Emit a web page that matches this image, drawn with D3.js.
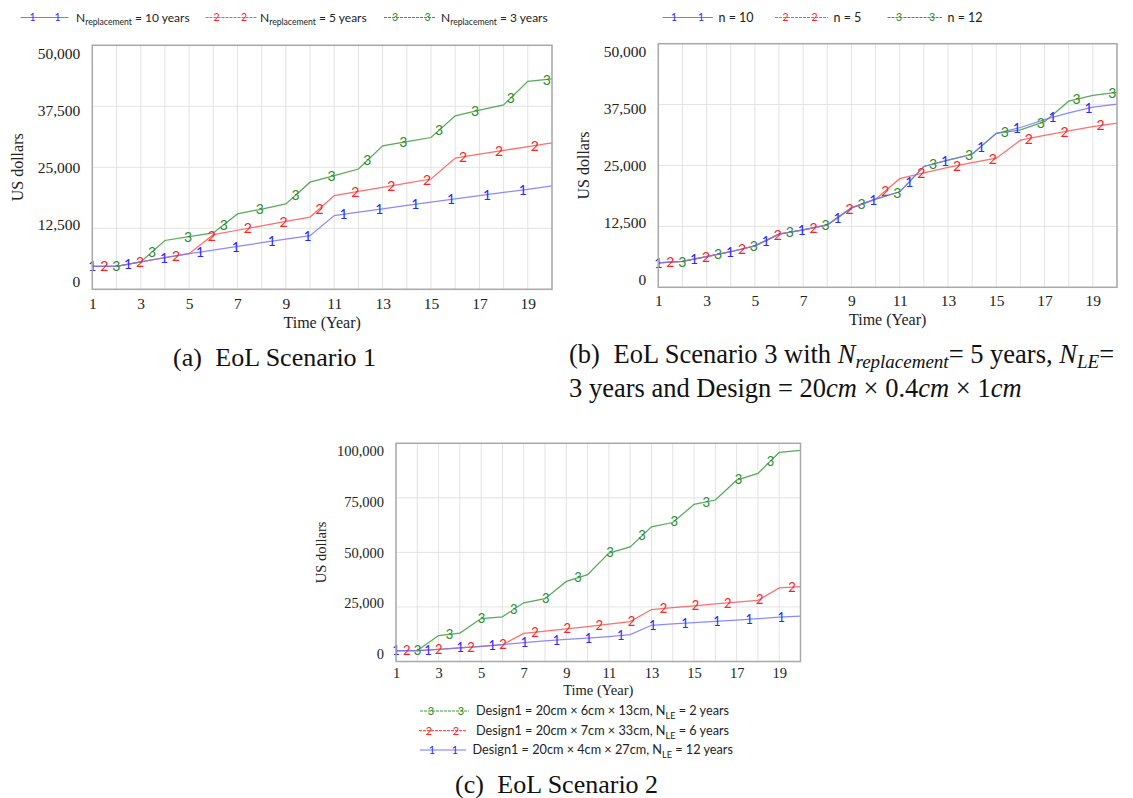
<!DOCTYPE html>
<meta charset="utf-8">
<head>
  <script src="https://d3js.org/d3.v7.min.js"></script>
  <style>
    body { margin: 0; background: #fff; }
    .grid line { stroke: #e3e3e3; stroke-width: 1; }
    .frame { fill: none; stroke: #a9a9a9; stroke-width: 1.5; }
    .tick text { font-family: "Liberation Serif", "Times New Roman", serif; fill: #222; }
    .title { font-family: "Liberation Serif", "Times New Roman", serif; fill: #222; }
    .legend { font-family: Lato, "Open Sans", sans-serif; }
    .marker { font-family: Lato, "Liberation Sans", sans-serif; }
    .caption { font-family: "Liberation Serif", "Times New Roman", serif; fill: #111; }
  </style>
</head>
<body>
<div id="chart"></div>
<script>

// x categories and tick labels
var years = [1, 2, 3, 4, 5, 6, 7, 8, 9, 10, 11, 12, 13, 14, 15, 16, 17, 18, 19, 20];
var xTickLabels = [1, 3, 5, 7, 9, 11, 13, 15, 17, 19];
var yTicksAB = [0, 12500, 25000, 37500, 50000];
var yTicksC = [0, 25000, 50000, 75000, 100000];

// (a) EoL Scenario 1
var a_rep10 = [4700, 4700, 5600, 6500, 7300, 8050, 8800, 9550, 10300, 11000, 15100, 15800, 16500, 17200, 17850, 18550, 19200, 19850, 20500, 21200];
var a_rep5  = [4700, 4700, 5600, 6500, 7300, 11200, 12100, 13000, 13900, 14800, 19200, 20050, 20900, 21750, 22600, 26900, 27700, 28450, 29250, 30000];
var a_rep3  = [4700, 4700, 5600, 10000, 10800, 11550, 15450, 16450, 17500, 21950, 23300, 24650, 29400, 30250, 31100, 35550, 36700, 37800, 42600, 43100];

// (b) EoL Scenario 3
var b_n10 = [5000, 5300, 6300, 7300, 8500, 10900, 11800, 12800, 16300, 18100, 19600, 24800, 26100, 27300, 31600, 32800, 34400, 35800, 37000, 37600];
var b_n5  = [5000, 5300, 6300, 7300, 8500, 10900, 11800, 12800, 16300, 18100, 22300, 23500, 24600, 25600, 26500, 30200, 31200, 32100, 33000, 33700];
var b_n12 = [5000, 5300, 6300, 7300, 8500, 10900, 11800, 12800, 16300, 18100, 19600, 24800, 26100, 27300, 31600, 32300, 34000, 38200, 39400, 40000];

// (c) EoL Scenario 2
var c_le12 = [5000, 5000, 5600, 6300, 6900, 7700, 8700, 9500, 10100, 10700, 11400, 12300, 16600, 17200, 17800, 18400, 19000, 19600, 20300, 20800];
var c_le6  = [5000, 5000, 5600, 6300, 6900, 7700, 12900, 13900, 15000, 16000, 17100, 18300, 23800, 24700, 25500, 26400, 27200, 28000, 33700, 34300];
var c_le2  = [5000, 5000, 11900, 13000, 19700, 20500, 26900, 28800, 36700, 39800, 49700, 52500, 61700, 63700, 72000, 74000, 83100, 86200, 95800, 96800];

var blue = { line: "#7676ff", mark: "#2a2aff", digit: "1" };
var red = { line: "#ff5555", mark: "#ff2020", digit: "2" };
var green = { line: "#3a9c3a", mark: "#2a8c2a", digit: "3" };

var svg = d3.select("#chart").append("svg")
  .attr("width", 1133)
  .attr("height", 798);

function drawPanel(p) {
  var x = d3.scaleLinear().domain([1, 20]).range([p.x0, p.x1]);
  var y = d3.scaleLinear().domain([0, p.yMax]).range([p.yBot, p.yTop]);
  // Vensim puts the value labels inset from the frame
  var yLab = d3.scaleLinear().domain([0, p.yMax]).range([p.yBot - 8, p.yTop + 8]);

  var g = svg.append("g");

  // grid
  var grid = g.append("g").attr("class", "grid");
  grid.selectAll(".v").data(years).enter().append("line")
    .attr("x1", function (d) { return x(d); }).attr("x2", function (d) { return x(d); })
    .attr("y1", p.yTop).attr("y2", p.yBot);
  grid.selectAll(".h").data(p.yTicks).enter().append("line")
    .attr("x1", p.x0).attr("x2", p.x1)
    .attr("y1", function (d) { return y(d); }).attr("y2", function (d) { return y(d); });

  // series lines (green under, blue on top)
  var line = d3.line()
    .x(function (d) { return x(d[0]); })
    .y(function (d) { return y(d[1]); });
  p.series.slice().reverse().forEach(function (s) {
    g.append("path")
      .datum(d3.zip(years, s.values))
      .attr("fill", "none")
      .attr("stroke", s.c.line)
      .attr("stroke-width", 1.25)
      .attr("opacity", 0.85)
      .attr("d", line);
  });

  // digit markers along each line
  p.series.forEach(function (s, k) {
    var along = d3.scaleLinear().domain(years).range(s.values);
    var pos = [];
    for (var t = 1 + k * p.step / 3; t <= 20.01; t += p.step) pos.push(Math.min(t, 20));
    g.selectAll(null).data(pos).enter().append("text")
      .attr("class", "marker")
      .attr("x", function (d) { return x(d); })
      .attr("y", function (d) { return y(along(d)); })
      .attr("text-anchor", "middle")
      .attr("dy", "0.36em")
      .style("font-size", p.markFont + "px")
      .style("fill", s.c.mark)
      .text(s.c.digit);
  });

  // frame
  g.append("rect").attr("class", "frame")
    .attr("x", p.x0).attr("y", p.yTop)
    .attr("width", p.x1 - p.x0).attr("height", p.yBot - p.yTop);

  // axes
  g.append("g")
    .attr("transform", "translate(0," + p.yBot + ")")
    .call(d3.axisBottom(x).tickValues(xTickLabels).tickSize(0))
    .call(function (a) { a.select(".domain").remove(); })
    .call(function (a) {
      a.selectAll("text").attr("y", p.xTickOff).attr("dy", "0.35em")
        .style("font-size", p.tickFont + "px");
    });

  g.append("g")
    .attr("transform", "translate(" + p.x0 + ",0)")
    .call(d3.axisLeft(yLab).tickValues(p.yTicks).tickFormat(d3.format(",")).tickSize(0).tickPadding(12))
    .call(function (a) { a.select(".domain").remove(); })
    .call(function (a) { a.selectAll("text").style("font-size", p.tickFont + "px"); });

  g.append("text").attr("class", "title")
    .attr("x", (p.x0 + p.x1) / 2).attr("y", p.yBot + p.timeOff)
    .attr("text-anchor", "middle").attr("dy", "0.35em")
    .style("font-size", p.titleFont + "px")
    .text("Time (Year)");

  g.append("text").attr("class", "title")
    .attr("transform", "translate(" + (p.x0 - 75) + "," + (p.yTop + p.yBot) / 2 + ") rotate(-90)")
    .attr("text-anchor", "middle").attr("dy", "0.35em")
    .style("font-size", p.titleFont + "px")
    .text("US dollars");
}

drawPanel({
  x0: 92.3, x1: 552, yTop: 45.3, yBot: 289.3, yMax: 50000, yTicks: yTicksAB,
  step: 1.483, markFont: 14, tickFont: 15.5, titleFont: 16, xTickOff: 14, timeOff: 33,
  series: [{ values: a_rep10, c: blue }, { values: a_rep5, c: red }, { values: a_rep3, c: green }]
});
drawPanel({
  x0: 658.3, x1: 1117, yTop: 43.7, yBot: 287.3, yMax: 50000, yTicks: yTicksAB,
  step: 1.485, markFont: 14, tickFont: 15.5, titleFont: 16, xTickOff: 13.5, timeOff: 32,
  series: [{ values: b_n10, c: blue }, { values: b_n5, c: red }, { values: b_n12, c: green }]
});
drawPanel({
  x0: 396, x1: 800.5, yTop: 443.3, yBot: 661.5, yMax: 100000, yTicks: yTicksC,
  step: 1.508, markFont: 13, tickFont: 14.5, titleFont: 14.5, xTickOff: 11.5, timeOff: 28.5,
  series: [{ values: c_le12, c: blue }, { values: c_le6, c: red }, { values: c_le2, c: green }]
});

// legends
function legendItem(lx0, lx1, m1, m2, ly, c, dash, markSize) {
  var lg = svg.append("g").attr("class", "legend");
  lg.append("line").attr("x1", lx0).attr("x2", lx1).attr("y1", ly).attr("y2", ly)
    .style("stroke", c.line).attr("stroke-width", 1.2)
    .attr("stroke-dasharray", dash);
  [m1, m2].forEach(function (mx) {
    lg.append("text").attr("class", "marker").attr("x", mx).attr("y", ly)
      .attr("dy", "0.36em").attr("text-anchor", "middle")
      .style("font-size", markSize + "px").style("fill", c.mark).text(c.digit);
  });
  return lg;
}
function subText(lg, tx, ty, size, main, sub, rest) {
  var t = lg.append("text").attr("x", tx).attr("y", ty).attr("dy", "0.35em")
    .style("font-size", size + "px").style("fill", "#222");
  t.append("tspan").text(main);
  t.append("tspan").attr("dy", size * 0.3).style("font-size", (size * 0.72) + "px").text(sub);
  t.append("tspan").attr("dy", -size * 0.3).text(rest);
}

var lgA = [
  { x0: 20.5, x1: 68.5, m: [32.5, 57.5], tx: 76, c: blue, dash: null, rest: " = 10 years" },
  { x0: 205.5, x1: 257, m: [216.5, 244], tx: 260, c: red, dash: "3,1", rest: " = 5 years" },
  { x0: 384, x1: 436, m: [395, 427.5], tx: 441, c: green, dash: "3,1", rest: " = 3 years" }
];
lgA.forEach(function (d) {
  var lg = legendItem(d.x0, d.x1, d.m[0], d.m[1], 17.5, d.c, d.dash, 10.5);
  subText(lg, d.tx, 17.5, 12, "N", "replacement", d.rest);
});

var lgB = [
  { x0: 662.5, x1: 713, m: [674, 701], tx: 718.5, c: blue, dash: null, label: "n = 10" },
  { x0: 775, x1: 828, m: [785.5, 814.5], tx: 833.5, c: red, dash: "3,1", label: "n = 5" },
  { x0: 887.5, x1: 942, m: [899, 932], tx: 947.5, c: green, dash: "3,1", label: "n = 12" }
];
lgB.forEach(function (d) {
  var lg = legendItem(d.x0, d.x1, d.m[0], d.m[1], 17.5, d.c, d.dash, 10.5);
  lg.append("text").attr("x", d.tx).attr("y", 17.5).attr("dy", "0.35em")
    .style("font-size", "12.5px").style("fill", "#222").text(d.label);
});

var lgC = [
  { y: 711, x0: 420, x1: 469, m: [431, 461], tx: 476, c: green, dash: "3,1", main: "Design1 = 20cm \u00d7 6cm \u00d7 13cm, N", rest: " = 2 years" },
  { y: 730.7, x0: 419, x1: 467, m: [429, 456], tx: 476, c: red, dash: "3,1", main: "Design1 = 20cm \u00d7 7cm \u00d7 33cm, N", rest: " = 6 years" },
  { y: 750, x0: 420, x1: 466, m: [432, 455], tx: 472.5, c: blue, dash: null, main: "Design1 = 20cm \u00d7 4cm \u00d7 27cm, N", rest: " = 12 years" }
];
lgC.forEach(function (d) {
  var lg = legendItem(d.x0, d.x1, d.m[0], d.m[1], d.y, d.c, d.dash, 11);
  subText(lg, d.tx, d.y, 12.7, d.main, "LE", d.rest);
});

// captions
var capA = svg.append("text").attr("class", "caption").attr("x", 173).attr("y", 366)
  .style("font-size", "26px");
capA.append("tspan").text("(a)");
capA.append("tspan").attr("dx", 7).text(" EoL Scenario 1");

var capB1 = svg.append("text").attr("class", "caption").attr("x", 569).attr("y", 363)
  .style("font-size", "26.5px");
capB1.append("tspan").text("(b)");
capB1.append("tspan").attr("dx", 7).text(" EoL Scenario 3 with ");
capB1.append("tspan").style("font-style", "italic").text("N");
capB1.append("tspan").style("font-style", "italic").style("font-size", "19px").attr("dy", 5).text("replacement");
capB1.append("tspan").attr("dy", -5).text("= 5 years, ");
capB1.append("tspan").style("font-style", "italic").text("N");
capB1.append("tspan").style("font-style", "italic").style("font-size", "19px").attr("dy", 5).text("LE");
capB1.append("tspan").attr("dy", -5).text("=");

var capB2 = svg.append("text").attr("class", "caption").attr("x", 569).attr("y", 397)
  .style("font-size", "26.5px");
capB2.append("tspan").text("3 years and Design = 20");
capB2.append("tspan").style("font-style", "italic").text("cm");
capB2.append("tspan").text(" \u00d7 0.4");
capB2.append("tspan").style("font-style", "italic").text("cm");
capB2.append("tspan").text(" \u00d7 1");
capB2.append("tspan").style("font-style", "italic").text("cm");

var capC = svg.append("text").attr("class", "caption").attr("x", 455).attr("y", 793)
  .style("font-size", "26px");
capC.append("tspan").text("(c)");
capC.append("tspan").attr("dx", 7).text(" EoL Scenario 2");

</script>
</body>
